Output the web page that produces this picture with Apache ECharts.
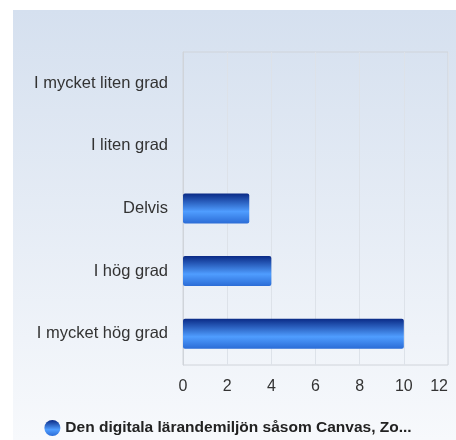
<!DOCTYPE html>
<html lang="sv">
<head>
<meta charset="utf-8">
<title>Chart</title>
<script src="https://cdn.jsdelivr.net/npm/echarts@6/dist/echarts.min.js"></script>
<style>
  html, body { margin: 0; padding: 0; background: #fff; }
  #main { width: 456px; height: 440px; }
</style>
</head>
<body>
<div id="main"></div>
<script>
// categories top to bottom as in the picture
var categories = ['I mycket liten grad', 'I liten grad', 'Delvis', 'I hög grad', 'I mycket hög grad'];
var values = [0, 0, 3, 4, 10];
var seriesName = 'Den digitala lärandemiljön såsom Canvas, Zo...';
var xTicks = [0, 2, 4, 6, 8, 10, 12];

var barGradient = new echarts.graphic.LinearGradient(0, 0, 0, 1, [
  { offset: 0, color: '#0a2a86' },
  { offset: 0.6, color: '#4f9dff' },
  { offset: 1, color: '#2b6cd6' }
]);

var myChart = echarts.init(document.getElementById('main'));
var option = {
  backgroundColor: '#ffffff',
  animation: false,
  graphic: [{
    type: 'rect',
    z: -10,
    silent: true,
    shape: { x: 13, y: 10, width: 443, height: 430 },
    style: {
      fill: new echarts.graphic.LinearGradient(0, 0, 0, 1, [
        { offset: 0, color: '#d5e0ef' },
        { offset: 1, color: '#f7f9fc' }
      ])
    }
  }],
  grid: {
    left: 183, top: 52, right: 8, bottom: 75,
    show: true,
    borderColor: '#d0d4da',
    borderWidth: 1,
    backgroundColor: 'transparent'
  },
  legend: {
    bottom: -1,
    left: 'center',
    icon: 'circle',
    itemWidth: 16,
    itemHeight: 16,
    itemGap: 4,
    textStyle: { fontFamily: 'Liberation Sans', fontSize: 15.5, fontWeight: 'bold', color: '#222' },
    data: [{ name: seriesName, itemStyle: { color: barGradient } }]
  },
  xAxis: {
    type: 'value',
    min: 0,
    max: 12,
    interval: 2,
    axisLine: { show: false },
    axisTick: { show: false },
    splitLine: { lineStyle: { color: '#dde2e9', width: 1 } },
    axisLabel: {
      margin: 14,
      alignMaxLabel: 'right',
      fontFamily: 'Liberation Sans',
      fontSize: 16,
      color: '#333',
      formatter: function (v) { return xTicks.indexOf(v) >= 0 ? String(v) : ''; }
    }
  },
  yAxis: {
    type: 'category',
    inverse: true,
    data: categories,
    axisLine: { show: true, lineStyle: { color: '#d0d4da' } },
    axisTick: { show: false },
    axisLabel: { margin: 15, fontFamily: 'Liberation Sans', fontSize: 16.5, color: '#333' }
  },
  series: [{
    name: seriesName,
    type: 'bar',
    data: values,
    barWidth: 30,
    itemStyle: {
      color: barGradient,
      borderRadius: 2
    }
  }]
};
myChart.setOption(option);
</script>
</body>
</html>
